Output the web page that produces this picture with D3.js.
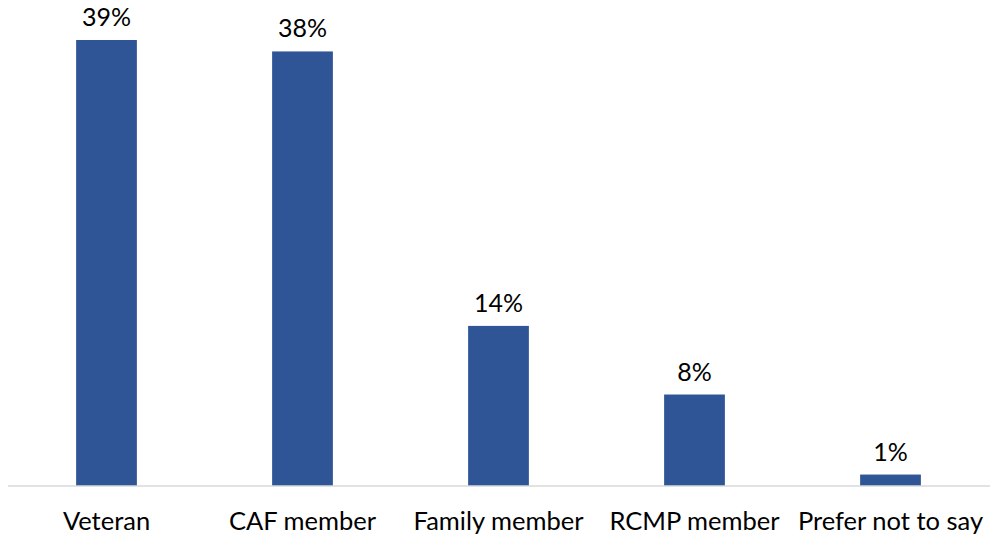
<!DOCTYPE html>
<html>
<head>
<meta charset="utf-8">
<script src="https://cdn.jsdelivr.net/npm/d3@7"></script>
<style>
  body { margin: 0; background: #fff; }
  text { font-family: Lato, "Open Sans", sans-serif; fill: #000; }
</style>
</head>
<body>
<svg width="990" height="540"></svg>
<script>
const categories = ["Veteran", "CAF member", "Family member", "RCMP member", "Prefer not to say"]
const values = [39, 38, 14, 8, 1]
const valueLabels = ["39%", "38%", "14%", "8%", "1%"]

const svg = d3.select("svg")
const baseline = 486

let x = d3.scaleBand().domain(categories).range([8.5, 988.5]).paddingInner(0.69).paddingOuter(0.345)
let y = d3.scaleLinear().domain([0, 39]).range([baseline, 40])

svg.append("g")
  .selectAll("rect")
  .data(values)
  .enter().append("rect")
  .attr("x", (d, i) => x(categories[i]))
  .attr("y", d => y(d))
  .attr("width", x.bandwidth())
  .attr("height", d => baseline - y(d))
  .attr("fill", "#2F5597")

// axis line + category labels
let xAxis = d3.axisBottom(x).tickSize(0).tickPadding(26)
let gx = svg.append("g").attr("transform", `translate(0,${baseline})`).call(xAxis)
gx.select(".domain").attr("stroke", "#d9d9d9").attr("stroke-width", 1.5).attr("d", "M8,0H990")
gx.selectAll("text").attr("font-size", 25.5).attr("font-family", "Lato, sans-serif").attr("fill", "#000")

svg.append("g")
  .selectAll("text")
  .data(values)
  .enter().append("text")
  .attr("x", (d, i) => x(categories[i]) + x.bandwidth() / 2)
  .attr("y", d => y(d) - 14)
  .attr("text-anchor", "middle")
  .attr("font-size", 25)
  .text((d, i) => valueLabels[i])
</script>
</body>
</html>
